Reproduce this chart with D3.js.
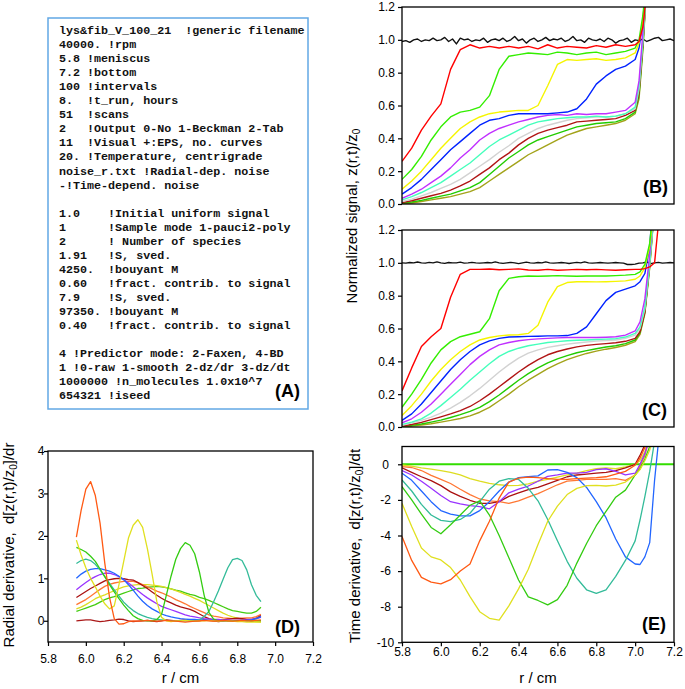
<!DOCTYPE html>
<html><head><meta charset="utf-8">
<script src="https://cdn.jsdelivr.net/npm/d3@7"></script>
<style>body{margin:0;background:#fff}svg{display:block}</style>
</head><body>
<script>
// ---------------- DATA ----------------
// Panel A: parameter file text
const paramLines = [
"lys&fib_V_100_21  !generic filename",
"40000. !rpm",
"5.8 !meniscus",
"7.2 !bottom",
"100 !intervals",
"8.  !t_run, hours",
"51  !scans",
"2   !Output 0-No 1-Beckman 2-Tab",
"11  !Visual +:EPS, no. curves",
"20. !Temperature, centrigrade",
"noise_r.txt !Radial-dep. noise",
"-!Time-depend. noise",
"",
"1.0    !Initial uniform signal",
"1      !Sample mode 1-pauci2-poly",
"2      ! Number of species",
"1.91   !S, sved.",
"4250.  !bouyant M",
"0.60   !fract. contrib. to signal",
"7.9    !S, sved.",
"97350. !bouyant M",
"0.40   !fract. contrib. to signal",
"",
"4 !Predictor mode: 2-Faxen, 4-BD",
"1 !0-raw 1-smooth 2-dz/dr 3-dz/dt",
"1000000 !n_molecules 1.0x10^7",
"654321 !iseed"
];

// Tick values
const sigTicks = [0,0.2,0.4,0.6,0.8,1.0,1.2];
const rTicks = [5.8,6.0,6.2,6.4,6.6,6.8,7.0,7.2];
const dTicks = [0,1,2,3,4];
const eTicks = [0,-2,-4,-6,-8,-10];

// Radial grids
const rFine = [5.80,5.82,5.84,5.86,5.88,5.90,5.92,5.94,5.96,5.98,6.00,6.02,6.04,6.06,6.08,6.10,6.12,6.14,6.16,6.18,6.20,6.22,6.24,6.26,6.28,6.30,6.32,6.34,6.36,6.38,6.40,6.42,6.44,6.46,6.48,6.50,6.52,6.54,6.56,6.58,6.60,6.62,6.64,6.66,6.68,6.70,6.72,6.74,6.76,6.78,6.80,6.82,6.84,6.86,6.88,6.90,6.92,6.94,6.96,6.98,7.00,7.02,7.04,7.06,7.08,7.10,7.12,7.14,7.16,7.18,7.20];
const rB = [5.80,5.85,5.90,5.95,6.00,6.05,6.10,6.15,6.20,6.25,6.30,6.35,6.40,6.45,6.50,6.55,6.60,6.65,6.70,6.75,6.80,6.85,6.90,6.95,7.00,7.02,7.04,7.06];
const rC = [5.80,5.85,5.90,5.95,6.00,6.05,6.10,6.15,6.20,6.25,6.30,6.35,6.40,6.45,6.50,6.55,6.60,6.65,6.70,6.75,6.80,6.85,6.90,6.95,7.00,7.025,7.05,7.075,7.10,7.125];
const rD = [5.950,5.975,6.000,6.025,6.050,6.075,6.100,6.125,6.150,6.175,6.200,6.225,6.250,6.275,6.300,6.325,6.350,6.375,6.400,6.425,6.450,6.475,6.500,6.525,6.550,6.575,6.600,6.625,6.650,6.675,6.700,6.725,6.750,6.775,6.800,6.825,6.850,6.875,6.900,6.925];
const rE = rC;
const rZero = [5.8,7.2];

// Panel B (noisy signal)
const bBlack = [0.99,0.995,0.985,1.0,1.005,0.99,1.0,0.995,1.01,0.995,1.0,1.015,0.99,1.005,0.975,1.01,1.0,1.005,0.99,1.0,0.995,1.01,0.985,1.0,1.005,0.995,1.01,0.99,1.0,1.02,0.995,1.005,0.98,1.0,1.01,0.99,1.0,1.015,0.995,1.005,1.0,1.01,0.99,1.0,1.02,0.995,1.0,0.985,1.01,1.0,0.995,1.005,0.99,1.01,1.0,0.98,0.995,1.0,1.01,0.985,1.0,0.995,1.005,0.99,1.0,1.01,1.015,0.995,1.0,1.005,0.995];
const bRed = [0.26,0.34,0.45,0.535,0.61,0.82,0.94,0.97,0.95,0.96,0.95,0.96,0.95,0.96,0.945,0.97,0.95,0.96,0.955,0.95,0.965,0.955,0.97,0.96,0.97,0.99,1.08,1.30];
const bGreen = [0.15,0.21,0.29,0.39,0.47,0.53,0.56,0.57,0.59,0.66,0.82,0.90,0.91,0.92,0.915,0.91,0.925,0.92,0.91,0.92,0.925,0.91,0.92,0.93,0.95,1.0,1.15,1.4];
const bYellow = [0.09,0.14,0.2,0.27,0.34,0.40,0.46,0.5,0.53,0.55,0.56,0.565,0.57,0.57,0.6,0.72,0.85,0.88,0.875,0.88,0.885,0.875,0.88,0.89,0.92,0.98,1.12,1.35];
const bBlue = [0.06,0.1,0.15,0.21,0.27,0.33,0.38,0.43,0.48,0.51,0.52,0.54,0.55,0.55,0.55,0.55,0.555,0.56,0.58,0.64,0.73,0.78,0.82,0.84,0.88,0.95,1.12,1.4];
const bPurple = [0.035,0.06,0.09,0.13,0.17,0.22,0.28,0.33,0.39,0.43,0.46,0.48,0.50,0.515,0.53,0.54,0.545,0.54,0.55,0.545,0.55,0.55,0.56,0.57,0.62,0.75,1.05,1.4];
const bAqua = [0.025,0.045,0.07,0.10,0.13,0.17,0.21,0.25,0.30,0.35,0.39,0.42,0.45,0.48,0.50,0.51,0.52,0.525,0.53,0.53,0.535,0.53,0.535,0.55,0.59,0.72,1.0,1.35];
const bGray = [0.015,0.03,0.05,0.07,0.095,0.12,0.15,0.19,0.23,0.27,0.315,0.355,0.40,0.43,0.46,0.48,0.495,0.51,0.52,0.525,0.53,0.53,0.535,0.55,0.58,0.70,1.0,1.35];
const bDarkRed = [0.008,0.02,0.035,0.05,0.065,0.085,0.11,0.14,0.18,0.22,0.27,0.31,0.36,0.40,0.43,0.45,0.465,0.48,0.50,0.505,0.51,0.515,0.52,0.54,0.57,0.68,0.98,1.35];
const bGreen2 = [0.005,0.012,0.022,0.035,0.048,0.06,0.08,0.10,0.13,0.18,0.23,0.28,0.32,0.36,0.39,0.41,0.43,0.45,0.47,0.48,0.49,0.495,0.50,0.52,0.56,0.66,0.96,1.35];
const bOlive = [0.0,0.006,0.015,0.025,0.035,0.045,0.06,0.075,0.10,0.14,0.18,0.22,0.26,0.30,0.33,0.36,0.39,0.42,0.44,0.46,0.47,0.48,0.49,0.51,0.55,0.64,0.94,1.35];

// Panel C (smoothed signal)
const cBlack = [1.0,0.998,1.002,1.0,1.005,1.0,0.998,1.003,1.0,1.006,1.0,0.997,1.002,1.0,1.0,1.004,0.998,1.0,1.003,1.0,0.998,1.0,1.002,1.0,1.006,1.0,0.997,1.0,1.003,1.0,0.995,1.0,1.004,1.0,0.998,1.002,1.0,1.006,1.0,0.998,1.0,1.002,1.0,0.996,1.0,1.003,1.0,1.006,1.0,0.998,1.0,1.002,1.0,0.998,1.0,1.002,1.0,0.998,0.99,0.99,0.992,0.998,1.0,1.005,0.995,1.0,1.003,0.998,1.0,1.002,1.0];
const cRed = [0.22,0.36,0.49,0.55,0.60,0.79,0.93,0.96,0.96,0.962,0.958,0.96,0.963,0.956,0.955,0.96,0.955,0.957,0.96,0.958,0.96,0.957,0.955,0.958,0.96,0.96,0.965,0.975,1.0,1.3];
const cGreen = [0.12,0.2,0.29,0.39,0.47,0.52,0.55,0.565,0.58,0.66,0.83,0.905,0.915,0.92,0.918,0.92,0.922,0.92,0.918,0.92,0.92,0.92,0.922,0.925,0.93,0.945,0.99,1.12,1.4,1.7];
const cYellow = [0.07,0.13,0.2,0.28,0.35,0.41,0.46,0.50,0.53,0.545,0.555,0.56,0.562,0.57,0.62,0.76,0.855,0.88,0.885,0.885,0.884,0.885,0.887,0.89,0.90,0.92,0.97,1.1,1.35,1.6];
const cBlue = [0.04,0.08,0.14,0.21,0.28,0.35,0.41,0.46,0.50,0.525,0.54,0.548,0.55,0.552,0.553,0.555,0.555,0.557,0.57,0.61,0.69,0.77,0.82,0.84,0.86,0.885,0.935,1.1,1.5,1.8];
const cPurple = [0.026,0.05,0.09,0.14,0.2,0.26,0.32,0.38,0.43,0.47,0.5,0.515,0.525,0.532,0.537,0.54,0.543,0.545,0.545,0.545,0.545,0.547,0.55,0.56,0.585,0.64,0.78,1.05,1.4,1.7];
const cAqua = [0.016,0.03,0.05,0.085,0.13,0.18,0.23,0.285,0.335,0.385,0.43,0.46,0.48,0.495,0.505,0.515,0.52,0.525,0.528,0.53,0.533,0.535,0.538,0.548,0.57,0.61,0.73,1.0,1.35,1.7];
const cGray = [0.01,0.025,0.04,0.06,0.085,0.115,0.15,0.19,0.235,0.285,0.335,0.38,0.42,0.45,0.47,0.485,0.495,0.505,0.512,0.518,0.523,0.527,0.53,0.54,0.56,0.6,0.72,1.0,1.35,1.7];
const cDarkRed = [0.006,0.015,0.028,0.045,0.062,0.08,0.1,0.125,0.16,0.2,0.245,0.29,0.335,0.375,0.41,0.44,0.46,0.475,0.488,0.497,0.503,0.508,0.513,0.522,0.54,0.58,0.7,1.0,1.35,1.7];
const cGreen2 = [0.004,0.01,0.018,0.03,0.042,0.058,0.075,0.095,0.12,0.155,0.195,0.24,0.285,0.325,0.36,0.39,0.415,0.435,0.452,0.465,0.477,0.487,0.495,0.508,0.53,0.575,0.7,0.98,1.35,1.7];
const cOlive = [0.0,0.005,0.012,0.02,0.03,0.04,0.052,0.068,0.09,0.12,0.16,0.2,0.245,0.285,0.32,0.355,0.385,0.41,0.43,0.448,0.462,0.474,0.484,0.498,0.52,0.565,0.69,0.97,1.35,1.7];

// Panel D (radial derivative)
const dOrangeRed = [1.97,2.6,3.1,3.28,2.95,2.3,1.36,0.55,0.05,-0.08,-0.07,-0.02,0.0,-0.01,0.0,0.01,0.0,-0.01,0.0,0.01,0.0,-0.01,-0.02,-0.03,-0.02,-0.01,0.0,0.01,0.0,-0.01,0.0,0.01,0.0,-0.01,0.0,0.01,0.0,0.0,0.01,0.02];
const dYellow = [1.9,1.55,1.25,1.0,0.8,0.58,0.4,0.28,0.35,0.85,1.4,1.95,2.25,2.38,2.2,1.7,1.1,0.45,0.08,0.0,-0.02,0.0,0.0,0.01,0.0,-0.01,0.0,0.0,0.01,0.0,-0.01,0.0,0.0,-0.01,-0.02,-0.02,-0.03,-0.03,-0.03,-0.03];
const dGreen = [1.73,1.68,1.62,1.52,1.40,1.22,1.04,0.85,0.68,0.52,0.37,0.24,0.12,0.05,0.01,0.0,0.0,0.03,0.15,0.6,1.05,1.45,1.7,1.84,1.78,1.58,1.15,0.6,0.2,0.04,0.0,0.01,0.0,-0.01,0.0,0.01,0.0,0.0,0.01,0.0];
const dTeal = [1.35,1.42,1.45,1.42,1.33,1.2,1.04,0.88,0.73,0.58,0.44,0.33,0.24,0.17,0.12,0.08,0.05,0.03,0.02,0.01,0.0,0.0,0.0,0.0,0.0,0.0,0.02,0.1,0.22,0.45,0.7,0.98,1.25,1.44,1.47,1.42,1.2,0.85,0.6,0.45];
const dBlue = [1.0,1.1,1.17,1.21,1.23,1.23,1.2,1.17,1.12,1.05,0.97,0.85,0.72,0.58,0.46,0.36,0.28,0.22,0.16,0.12,0.09,0.07,0.05,0.04,0.03,0.03,0.02,0.02,0.01,0.01,0.0,0.0,0.0,0.0,0.0,0.0,0.01,0.02,0.05,0.1];
const dPurple = [0.73,0.82,0.9,0.98,1.04,1.09,1.12,1.12,1.09,1.04,0.97,0.89,0.8,0.71,0.62,0.54,0.47,0.4,0.34,0.3,0.26,0.22,0.18,0.14,0.11,0.09,0.07,0.05,0.04,0.03,0.03,0.02,0.02,0.01,0.01,0.02,0.02,0.03,0.05,0.08];
const dDarkRed = [0.55,0.62,0.69,0.76,0.82,0.88,0.94,0.97,0.99,1.0,0.99,0.97,0.96,0.9,0.83,0.76,0.68,0.6,0.53,0.47,0.42,0.37,0.33,0.3,0.27,0.22,0.16,0.1,0.05,0.02,0.01,0.02,0.04,0.05,0.06,0.05,0.03,0.03,0.06,0.12];
const dOrange = [0.38,0.44,0.5,0.58,0.66,0.74,0.81,0.86,0.89,0.91,0.93,0.93,0.93,0.9,0.85,0.8,0.75,0.7,0.66,0.61,0.56,0.5,0.45,0.4,0.34,0.29,0.24,0.19,0.14,0.11,0.09,0.07,0.06,0.05,0.05,0.06,0.07,0.07,0.1,0.15];
const dYellow2 = [0.28,0.32,0.38,0.45,0.52,0.57,0.61,0.66,0.71,0.76,0.8,0.82,0.84,0.85,0.85,0.85,0.84,0.83,0.81,0.78,0.75,0.71,0.67,0.62,0.58,0.53,0.48,0.42,0.36,0.3,0.24,0.18,0.13,0.09,0.06,0.04,0.02,0.0,-0.02,-0.03];
const dGreen2 = [0.22,0.26,0.3,0.34,0.38,0.44,0.5,0.54,0.57,0.61,0.65,0.69,0.73,0.76,0.77,0.79,0.8,0.81,0.8,0.78,0.75,0.72,0.7,0.66,0.62,0.6,0.55,0.52,0.48,0.43,0.38,0.33,0.28,0.24,0.22,0.2,0.18,0.18,0.22,0.32];
const dFlat = [0.0,0.01,0.02,0.02,0.0,-0.02,-0.01,0.01,0.02,0.04,0.03,0.0,-0.02,-0.01,0.0,0.01,-0.01,-0.02,0.0,0.02,0.01,0.0,0.01,0.02,0.0,-0.01,0.0,0.02,0.01,0.0,-0.02,-0.01,0.01,0.0,-0.01,0.01,0.02,0.0,-0.01,0.0];

// Panel E (time derivative)
const eOrangeRed = [-4.06,-5.4,-6.35,-6.62,-6.72,-6.48,-6.0,-5.6,-4.3,-3.2,-1.9,-1.0,-0.78,-0.72,-0.75,-0.8,-0.85,-0.85,-0.8,-0.78,-0.75,-0.7,-0.55,-0.4,-0.05,0.35,0.95,2.0,3,4];
const eYellow = [-2.19,-3.5,-4.7,-5.2,-5.37,-5.8,-6.5,-7.43,-8.28,-8.65,-8.75,-7.95,-7.0,-5.9,-4.5,-3.2,-2.35,-1.7,-1.35,-1.2,-1.18,-1.22,-1.17,-1.0,-0.6,-0.3,0.2,0.8,1.8,3];
const eGreen = [-1.25,-2.0,-2.8,-3.55,-3.9,-3.4,-2.85,-2.3,-2.05,-2.85,-4.0,-5.25,-6.5,-7.45,-7.65,-7.9,-7.6,-6.8,-5.55,-4.45,-3.45,-2.65,-1.85,-1.45,-0.6,-0.25,0.3,1.0,2.0,3];
const eTeal = [-0.88,-1.5,-2.25,-2.85,-3.15,-3.22,-3.1,-2.75,-2.1,-1.4,-0.95,-0.8,-0.85,-1.35,-2.05,-3.1,-4.3,-5.45,-6.4,-7.05,-7.25,-7.05,-6.3,-5.4,-4.3,-3.13,-1.82,-0.4,1.3,3];
const eBlue = [-0.5,-0.9,-1.5,-2.1,-2.6,-2.8,-2.9,-2.9,-2.6,-2.1,-1.5,-1.0,-0.75,-0.69,-0.65,-0.32,-0.3,-0.45,-0.75,-1.3,-2.1,-3.0,-4.2,-5.2,-5.6,-5.63,-5.2,-4.4,-0.9,1.8];
const ePurple = [-0.35,-0.6,-0.95,-1.35,-1.75,-2.1,-2.22,-2.32,-2.38,-2.5,-2.1,-1.6,-1.4,-1.22,-0.95,-0.68,-0.6,-0.5,-0.5,-0.45,-0.3,-0.25,-0.4,-0.6,-0.5,0.0,0.6,1.5,3,4];
const eDarkRed = [-0.2,-0.45,-0.7,-0.92,-1.2,-1.55,-1.8,-2.02,-2.19,-2.2,-2.1,-1.8,-1.6,-1.42,-1.3,-1.1,-0.9,-0.7,-0.6,-0.55,-0.5,-0.45,-0.35,-0.2,0.0,0.5,1.1,2.2,3,4];
const eOrange = [-0.13,-0.18,-0.35,-0.62,-0.85,-1.08,-1.4,-1.7,-1.95,-2.05,-2.1,-2.19,-2.05,-1.85,-1.65,-1.4,-1.15,-0.95,-0.9,-0.85,-0.85,-0.85,-0.8,-0.9,-0.6,-0.1,0.5,1.5,3,4];
const eYellow2 = [-0.04,-0.1,-0.2,-0.27,-0.35,-0.45,-0.6,-0.8,-0.95,-1.07,-1.15,-1.2,-1.18,-1.1,-0.95,-0.85,-0.72,-0.6,-0.5,-0.35,-0.25,-0.2,-0.25,-0.15,0.0,0.2,0.7,1.6,3,4];
const eZero = [0,0];

// ---------------- DRAWING ----------------
const FONT = "Arial, 'Liberation Sans', Helvetica, sans-serif";
const svg = d3.select('body').append('svg').attr('width',685).attr('height',689);
svg.append('rect').attr('width',685).attr('height',689).attr('fill','#fff');
const defs = svg.append('defs');

function panel(p){
  const sx = d3.scaleLinear().domain([5.8,7.2]).range([p.left,p.right]);
  const sy = d3.scaleLinear().domain(p.yDomain).range([p.bottom,p.top]);
  const cid = 'clip-'+p.id;
  defs.append('clipPath').attr('id',cid).append('rect')
    .attr('x',p.left).attr('y',p.top).attr('width',p.right-p.left).attr('height',p.bottom-p.top);
  const g = svg.append('g').attr('clip-path',`url(#${cid})`);
  p.series.forEach(s=>{
    g.append('path')
      .attr('d', d3.line().x((d,i)=>sx(s.r[i])).y(d=>sy(d))(s.v))
      .attr('fill','none').attr('stroke',s.c).attr('stroke-width',s.w||p.lw)
      .attr('stroke-linejoin','round');
  });
  svg.append('rect').attr('x',p.left).attr('y',p.top)
    .attr('width',p.right-p.left).attr('height',p.bottom-p.top)
    .attr('fill','none').attr('stroke','#000').attr('stroke-width',1.3);
  const ay = svg.append('g').attr('transform',`translate(${p.left},0)`)
    .call(d3.axisLeft(sy).tickValues(p.yTicks).tickSize(4).tickFormat(p.yFmt));
  ay.attr('font-family',FONT).attr('font-size',12);
  ay.select('.domain').remove();
  ay.selectAll('line').attr('stroke','#000').attr('stroke-width',1.2);
  ay.selectAll('text').attr('x',p.yLabX - p.left).attr('text-anchor','middle').attr('fill','#000');
  if (p.xAxis){
    const ax = svg.append('g').attr('transform',`translate(0,${p.bottom})`)
      .call(d3.axisBottom(sx).tickValues(rTicks).tickSize(4).tickPadding(p.xPad).tickFormat(d3.format('.1f')));
    ax.attr('font-family',FONT).attr('font-size',12);
    ax.select('.domain').remove();
    ax.selectAll('line').attr('stroke','#000').attr('stroke-width',1.2);
    ax.selectAll('text').attr('fill','#000');
    svg.append('text').attr('x',(p.left+p.right)/2).attr('y',683).attr('text-anchor','middle')
      .attr('font-family',FONT).attr('font-size',15).text('r / cm');
  }
  svg.append('text').attr('x',p.labX).attr('y',p.labY).attr('font-family',FONT)
    .attr('font-size',18).attr('font-weight','bold').text(p.label);
}

const sigFmt = d3.format('.1f');
const intFmt = d => String(d);

panel({id:'B', left:402, right:674, top:7, bottom:204, yDomain:[0,1.2], yTicks:sigTicks, yFmt:sigFmt, yLabX:386.5, lw:1.4,
  label:'(B)', labX:643, labY:193,
  series:[
    {r:rFine,v:bBlack,c:'#111111'},
    {r:rB,v:bOlive,c:'#a3a31a'},
    {r:rB,v:bGreen2,c:'#22cc00'},
    {r:rB,v:bDarkRed,c:'#b01515'},
    {r:rB,v:bGray,c:'#d2d2d2'},
    {r:rB,v:bAqua,c:'#44ffbb'},
    {r:rB,v:bPurple,c:'#c030ff'},
    {r:rB,v:bBlue,c:'#0022ff'},
    {r:rB,v:bYellow,c:'#f5f500'},
    {r:rB,v:bGreen,c:'#33ee00'},
    {r:rB,v:bRed,c:'#ff0000'}
  ]});

panel({id:'C', left:402, right:674, top:230, bottom:427, yDomain:[0,1.2], yTicks:sigTicks, yFmt:sigFmt, yLabX:386.5, lw:1.4,
  label:'(C)', labX:642, labY:416,
  series:[
    {r:rFine,v:cBlack,c:'#111111'},
    {r:rC,v:cOlive,c:'#a3a31a'},
    {r:rC,v:cGreen2,c:'#22cc00'},
    {r:rC,v:cDarkRed,c:'#b01515'},
    {r:rC,v:cGray,c:'#d2d2d2'},
    {r:rC,v:cAqua,c:'#44ffbb'},
    {r:rC,v:cPurple,c:'#c030ff'},
    {r:rC,v:cBlue,c:'#0022ff'},
    {r:rC,v:cYellow,c:'#f5f500'},
    {r:rC,v:cGreen,c:'#33ee00'},
    {r:rC,v:cRed,c:'#ff0000'}
  ]});

panel({id:'D', left:48, right:313, top:451, bottom:642, yDomain:[-0.5,4], yTicks:dTicks, yFmt:intFmt, yLabX:41, lw:1.3,
  xAxis:true, xPad:8, label:'(D)', labX:275, labY:633,
  series:[
    {r:rD,v:dFlat,c:'#aa1818'},
    {r:rD,v:dGreen2,c:'#44cc11'},
    {r:rD,v:dYellow2,c:'#dddd22'},
    {r:rD,v:dOrange,c:'#ff7733'},
    {r:rD,v:dDarkRed,c:'#aa1111'},
    {r:rD,v:dPurple,c:'#9933ff'},
    {r:rD,v:dBlue,c:'#2266ff'},
    {r:rD,v:dTeal,c:'#33bb99'},
    {r:rD,v:dGreen,c:'#33cc11'},
    {r:rD,v:dYellow,c:'#e0e020'},
    {r:rD,v:dOrangeRed,c:'#ff5a14'}
  ]});

panel({id:'E', left:402, right:674, top:446.5, bottom:642.3, yDomain:[-10,1], yTicks:eTicks, yFmt:intFmt, yLabX:385.5, lw:1.3,
  xAxis:true, xPad:1, label:'(E)', labX:642, labY:630,
  series:[
    {r:rZero,v:eZero,c:'#33dd00',w:2},
    {r:rE,v:eYellow2,c:'#dddd22'},
    {r:rE,v:eOrange,c:'#ff7733'},
    {r:rE,v:eDarkRed,c:'#aa1111'},
    {r:rE,v:ePurple,c:'#9933ff'},
    {r:rE,v:eBlue,c:'#2266ff'},
    {r:rE,v:eTeal,c:'#33bb99'},
    {r:rE,v:eGreen,c:'#33cc11'},
    {r:rE,v:eYellow,c:'#e0e020'},
    {r:rE,v:eOrangeRed,c:'#ff5a14'}
  ]});

// Y axis titles (rotated, with subscript 0)
function yTitle(x, y, pre, post){
  const t = svg.append('text').attr('transform',`translate(${x},${y}) rotate(-90)`)
    .attr('text-anchor','middle').attr('font-family',FONT).attr('font-size',15)
    .style('white-space','pre').attr('xml:space','preserve');
  t.append('tspan').text(pre);
  t.append('tspan').attr('font-size',10).attr('dy',3).text('0');
  if (post) t.append('tspan').attr('dy',-3).text(post);
  else t.append('tspan').attr('dy',-3).text('');
}
yTitle(357, 216, 'Normalized signal, z(r,t)/z', '');
yTitle(360, 546, 'Time derivative,  d[z(r,t)/z', ']/dt');
yTitle(14, 545, 'Radial derivative,  d[z(r,t)/z', ']/dr');

// Panel A
svg.append('rect').attr('x',48).attr('y',18).attr('width',260).attr('height',391)
  .attr('fill','#fff').attr('stroke','#62a8e5').attr('stroke-width',1.5);
const ta = svg.append('g');
paramLines.forEach((ln,i)=>{
  ta.append('text').attr('x',59).attr('y',34 + i*14.05)
    .attr('font-family',"'Liberation Mono','Courier New',monospace").attr('font-size',11.7)
    .attr('font-weight','bold').style('white-space','pre').attr('xml:space','preserve')
    .attr('fill','#111').text(ln);
});
svg.append('text').attr('x',275).attr('y',397).attr('font-family',FONT)
  .attr('font-size',18).attr('font-weight','bold').text('(A)');
</script>
</body></html>
